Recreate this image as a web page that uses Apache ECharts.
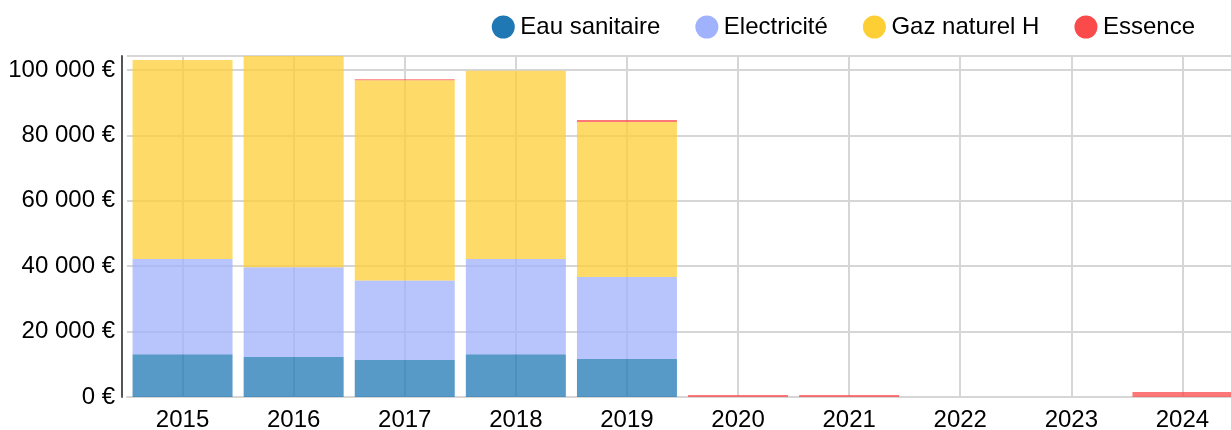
<!DOCTYPE html>
<html>
<head>
<meta charset="utf-8">
<script src="https://cdn.jsdelivr.net/npm/echarts@6/dist/echarts.min.js"></script>
<style>
html,body{margin:0;padding:0;background:#fff;}
#chart{width:1231px;height:430px;}
</style>
</head>
<body>
<div id="chart"></div>
<script>
var categories = ['2015','2016','2017','2018','2019','2020','2021','2022','2023','2024'];
var seriesNames = ['Eau sanitaire','Electricité','Gaz naturel H','Essence'];
var eauSanitaire = [13060, 12200, 11300, 13100, 11600, 0, 0, 0, 0, 0];
var electricite  = [29140, 27500, 24300, 29100, 25100, 0, 0, 0, 0, 0];
var gazNaturelH  = [60900, 64600, 61300, 57600, 47400, 0, 0, 0, 0, 0];
var essence      = [0, 0, 300, 0, 600, 600, 600, 0, 0, 1500];
var yTicks = [0, 20000, 40000, 60000, 80000, 100000];

var solidColors = ['#1f77b4', '#a0b2fc', '#fdcf35', '#fb4a4a'];
var barOpacity = 0.75;

var allSeries = [eauSanitaire, electricite, gazNaturelH, essence];
var totals = categories.map(function(_, i){
  return allSeries.reduce(function(s, arr){ return s + arr[i]; }, 0);
});
var yMax = Math.max.apply(null, totals);

// helper axis: two bands per category so that a split line falls on each category centre
var halfBands = [];
categories.forEach(function(c){ halfBands.push(c + 'a'); halfBands.push(c + 'b'); });

function fmt(v){
  var s = String(Math.round(v)).replace(/\B(?=(\d{3})+(?!\d))/g, ' ');
  return s + ' €';
}

var chart = echarts.init(document.getElementById('chart'), null, {renderer: 'canvas'});
var fontFamily = '"Liberation Sans", Arial, sans-serif';
var gridColor = '#d6d6d6';

chart.setOption({
  animation: false,
  textStyle: {fontFamily: fontFamily},
  legend: {
    top: 10,
    right: 31,
    icon: 'circle',
    itemWidth: 24,
    itemHeight: 23,
    itemGap: 35,
    textStyle: {fontSize: 24, color: '#000', fontFamily: fontFamily},
    data: seriesNames.map(function(n, i){
      return {name: n, itemStyle: {color: solidColors[i], opacity: 1}};
    })
  },
  grid: {left: 127, width: 1111, top: 56, bottom: 33, containLabel: false, outerBoundsMode: 'none'},
  xAxis: [{
    type: 'category',
    data: categories,
    axisLine: {show: true, lineStyle: {color: gridColor, width: 2}},
    axisTick: {show: false},
    axisLabel: {fontSize: 24, color: '#000', margin: 11, fontFamily: fontFamily},
    splitLine: {show: false}
  }, {
    type: 'category',
    data: halfBands,
    position: 'bottom',
    axisLine: {show: false},
    axisTick: {show: false},
    axisLabel: {show: false},
    splitLine: {
      show: true,
      interval: function(index){ return index % 2 === 1; },
      lineStyle: {color: gridColor, width: 2}
    }
  }],
  yAxis: {
    type: 'value',
    min: 0,
    max: yMax,
    interval: 20000,
    offset: 5,
    axisLine: {show: true, lineStyle: {color: '#555', width: 2}},
    axisTick: {show: false},
    axisLabel: {
      fontSize: 24, color: '#000', margin: 7, fontFamily: fontFamily,
      formatter: function(v){ return yTicks.indexOf(v) >= 0 ? fmt(v) : ''; }
    },
    splitLine: {show: true, lineStyle: {color: gridColor, width: 2}}
  },
  series: allSeries.map(function(arr, i){
    return {
      name: seriesNames[i],
      type: 'bar',
      stack: 'total',
      xAxisIndex: 0,
      barCategoryGap: '10%',
      data: arr,
      itemStyle: {color: solidColors[i], opacity: barOpacity}
    };
  })
});
</script>
</body>
</html>
